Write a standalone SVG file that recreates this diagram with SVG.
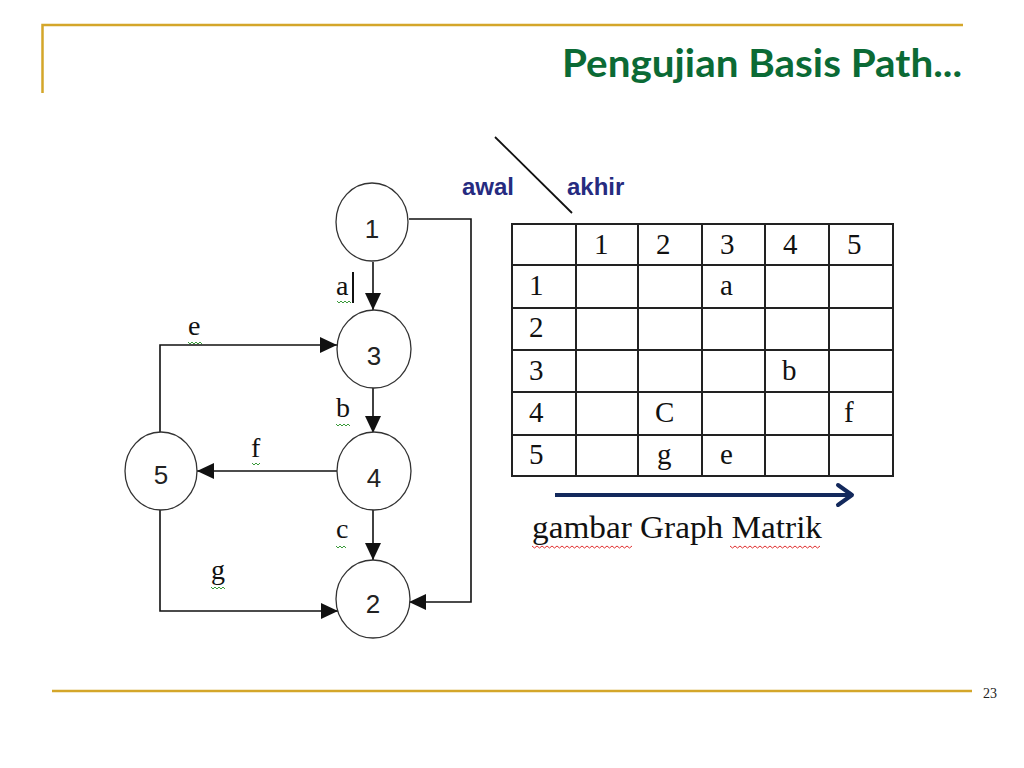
<svg xmlns="http://www.w3.org/2000/svg" width="1024" height="768" viewBox="0 0 1024 768">
<style>
.frame{stroke:#d4a62a;stroke-width:2.5;fill:none}
.node{fill:#fff;stroke:#333;stroke-width:1.3}
.nlab{font-family:"Liberation Sans",Arial,sans-serif;font-size:26px;fill:#222;text-anchor:middle}
.edge{fill:none;stroke:#111;stroke-width:1.6}
.elab{font-family:"Liberation Serif","Times New Roman",serif;font-size:28px;fill:#111}
.sq{fill:none;stroke:#3a9a3a;stroke-width:1}
.rsq{fill:none;stroke:#e03030;stroke-width:1}
.grid{fill:none;stroke:#222;stroke-width:2}
.tcell{font-family:"Liberation Serif","Times New Roman",serif;font-size:29px;fill:#111}
.blue{font-family:"Liberation Sans",Arial,sans-serif;font-size:24px;font-weight:bold;fill:#262b80}
</style>
<defs>
<marker id="arr" markerUnits="userSpaceOnUse" markerWidth="17" markerHeight="16" refX="17" refY="8" orient="auto">
<path d="M0,0 L17,8 L0,16 z" fill="#111"/>
</marker>
</defs>
<rect width="1024" height="768" fill="#fff"/>
<!-- slide frame -->
<path class="frame" d="M42.5,93 V25 H963"/>
<line class="frame" x1="52" y1="691" x2="972" y2="691"/>
<text x="983" y="698" font-family="Liberation Serif,'Times New Roman',serif" font-size="14" fill="#222">23</text>
<text x="962" y="77" text-anchor="end" font-family="Lato,'Noto Sans',sans-serif" font-weight="bold" font-size="39" fill="#0b6a35" textLength="400" lengthAdjust="spacingAndGlyphs">Pengujian Basis Path...</text>

<!-- connectors -->
<g id="connectors">
<line class="edge" x1="373" y1="262" x2="373" y2="310" marker-end="url(#arr)"/>
<line class="edge" x1="373" y1="388" x2="373" y2="433" marker-end="url(#arr)"/>
<line class="edge" x1="373" y1="510" x2="373" y2="560" marker-end="url(#arr)"/>
<line class="edge" x1="337" y1="471" x2="197" y2="471" marker-end="url(#arr)"/>
<path class="edge" d="M160,432 V345 H337" marker-end="url(#arr)"/>
<path class="edge" d="M160,510 V611 H338" marker-end="url(#arr)"/>
<path class="edge" d="M409,219 H471 V602 H409" marker-end="url(#arr)"/>
<!-- edge labels -->
<text class="elab" x="336" y="295">a</text>
<line x1="353" y1="272" x2="353" y2="303" stroke="#111" stroke-width="2"/>
<path class="sq" d="M337,301 l2,2 l2,-2 l2,2 l2,-2 l2,2 l2,-2 l2,2"/>
<text class="elab" x="188" y="335">e</text>
<path class="sq" d="M188,342 l2,2 l2,-2 l2,2 l2,-2 l2,2 l2,-2 l2,2"/>
<text class="elab" x="336" y="417">b</text>
<path class="sq" d="M336,424 l2,2 l2,-2 l2,2 l2,-2 l2,2 l2,-2 l2,2"/>
<text class="elab" x="251" y="457">f</text>
<path class="sq" d="M252,463 l2,2 l2,-2 l2,2 l2,-2"/>
<text class="elab" x="336" y="538">c</text>
<path class="sq" d="M336,546 l2,2 l2,-2 l2,2 l2,-2 l2,2"/>
<text class="elab" x="211" y="579">g</text>
<path class="sq" d="M211,587 l2,2 l2,-2 l2,2 l2,-2 l2,2 l2,-2 l2,2"/>
</g>

<!-- nodes -->
<g id="node1"><ellipse class="node" cx="372" cy="222" rx="36" ry="39"/><text class="nlab" x="372" y="238">1</text></g>
<g id="node3"><ellipse class="node" cx="374" cy="349" rx="37" ry="39"/><text class="nlab" x="374" y="365">3</text></g>
<g id="node4"><ellipse class="node" cx="374" cy="471" rx="37" ry="39"/><text class="nlab" x="374" y="487">4</text></g>
<g id="node5"><ellipse class="node" cx="161" cy="471" rx="36" ry="39"/><text class="nlab" x="161" y="484">5</text></g>
<g id="node2"><ellipse class="node" cx="373" cy="599" rx="37" ry="39"/><text class="nlab" x="373" y="613">2</text></g>

<!-- matrix -->
<g id="matrix">
<line x1="495" y1="137" x2="572" y2="213" stroke="#111" stroke-width="1.8"/>
<text class="blue" x="462" y="195">awal</text>
<text class="blue" x="567" y="195">akhir</text>
<rect class="grid" x="512" y="224" width="381" height="252"/>
<path class="grid" d="M576,224 V476 M638,224 V476 M702,224 V476 M765,224 V476 M829,224 V476 M512,265 H893 M512,308 H893 M512,350 H893 M512,392 H893 M512,435 H893"/>
<text class="tcell" x="594" y="254">1</text>
<text class="tcell" x="656" y="254">2</text>
<text class="tcell" x="720" y="254">3</text>
<text class="tcell" x="783" y="254">4</text>
<text class="tcell" x="847" y="254">5</text>
<text class="tcell" x="529" y="295">1</text>
<text class="tcell" x="529" y="337">2</text>
<text class="tcell" x="529" y="380">3</text>
<text class="tcell" x="529" y="422">4</text>
<text class="tcell" x="529" y="464">5</text>
<text class="tcell" x="720" y="295">a</text>
<text class="tcell" x="782" y="380">b</text>
<text class="tcell" x="655" y="422">C</text>
<text class="tcell" x="844" y="422">f</text>
<text class="tcell" x="657" y="464">g</text>
<text class="tcell" x="720" y="464">e</text>
<line x1="555" y1="495" x2="850" y2="495" stroke="#13295c" stroke-width="4"/>
<path d="M838,485 L852,495 L838,505" fill="none" stroke="#13295c" stroke-width="4" stroke-linecap="round" stroke-linejoin="round"/>
<text x="532" y="538" font-family="Liberation Serif,'Times New Roman',serif" font-size="31" fill="#111" textLength="290" lengthAdjust="spacingAndGlyphs">gambar Graph Matrik</text>
<path class="rsq" d="M532,546 l2.5,2 l2.5,-2 l2.5,2 l2.5,-2 l2.5,2 l2.5,-2 l2.5,2 l2.5,-2 l2.5,2 l2.5,-2 l2.5,2 l2.5,-2 l2.5,2 l2.5,-2 l2.5,2 l2.5,-2 l2.5,2 l2.5,-2 l2.5,2 l2.5,-2 l2.5,2 l2.5,-2 l2.5,2 l2.5,-2 l2.5,2 l2.5,-2 l2.5,2 l2.5,-2 l2.5,2 l2.5,-2 l2.5,2 l2.5,-2 l2.5,2 l2.5,-2 l2.5,2 l2.5,-2 l2.5,2 l2.5,-2 l2.5,2 l2.5,-2"/>
<path class="rsq" d="M730,546 l2.5,2 l2.5,-2 l2.5,2 l2.5,-2 l2.5,2 l2.5,-2 l2.5,2 l2.5,-2 l2.5,2 l2.5,-2 l2.5,2 l2.5,-2 l2.5,2 l2.5,-2 l2.5,2 l2.5,-2 l2.5,2 l2.5,-2 l2.5,2 l2.5,-2 l2.5,2 l2.5,-2 l2.5,2 l2.5,-2 l2.5,2 l2.5,-2 l2.5,2 l2.5,-2 l2.5,2 l2.5,-2 l2.5,2 l2.5,-2 l2.5,2 l2.5,-2 l2.5,2 l2.5,-2"/>
</g>
</svg>
